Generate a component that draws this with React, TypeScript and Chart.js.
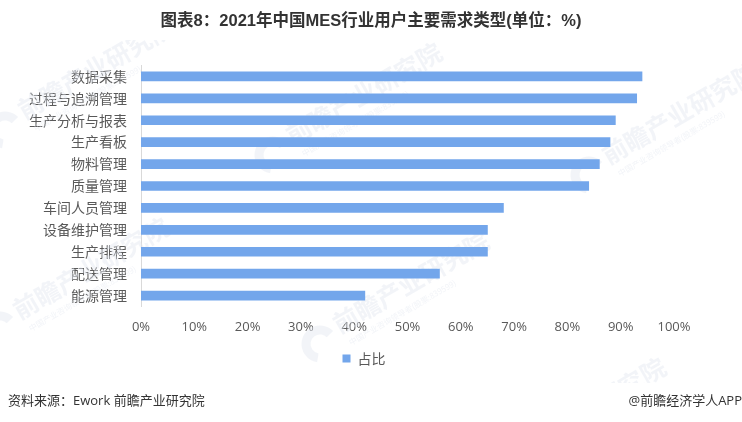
import { useEffect, useRef } from "react";
import { Chart, registerables } from "chart.js";

Chart.register(...registerables);

const categories = [
  "数据采集",
  "过程与追溯管理",
  "生产分析与报表",
  "生产看板",
  "物料管理",
  "质量管理",
  "车间人员管理",
  "设备维护管理",
  "生产排程",
  "配送管理",
  "能源管理",
];
const shares = [94, 93, 89, 88, 86, 84, 68, 65, 65, 56, 42];
const seriesName = "占比";
const chartTitle = "图表8：2021年中国MES行业用户主要需求类型(单位：%)";
const sourceText = "资料来源：Ework 前瞻产业研究院";
const brandText = "@前瞻经济学人APP";
const watermarkName = "前瞻产业研究院";
const watermarkSub = "中国产业咨询领导者(股票:839599)";

const CJK = '"Noto Sans CJK SC", sans-serif';
const LATIN = '"Open Sans", "Noto Sans CJK SC", sans-serif';
const TITLE_FONT = '"Liberation Sans", "Noto Sans CJK SC", sans-serif';
const TEXT = "#595959";
const MARK = "rgba(226,231,240,0.45)";

// logo centre of each faint watermark
const marks = [
  [5, 130],
  [273, 155],
  [589, 175],
  [0, 330],
  [320, 344],
  [497, 470],
];

const backdrop = {
  id: "backdrop",
  beforeDatasetsDraw(chart: Chart) {
    const { ctx } = chart;
    ctx.save();
    // the watermark layer stops above the title and the footer
    ctx.beginPath();
    ctx.rect(0, 40, 742, 343);
    ctx.clip();
    for (const [x, y] of marks) {
      ctx.save();
      ctx.translate(x, y);
      ctx.strokeStyle = MARK;
      ctx.lineWidth = 9;
      ctx.beginPath();
      ctx.arc(0, 0, 14, Math.PI * 0.55, Math.PI * 1.75);
      ctx.stroke();
      ctx.rotate(-Math.PI / 6);
      ctx.fillStyle = MARK;
      ctx.textBaseline = "middle";
      ctx.font = `bold 25px ${CJK}`;
      ctx.fillText(watermarkName, 22, -8);
      ctx.font = `8px ${CJK}`;
      ctx.fillText(watermarkSub, 26, 14);
      ctx.restore();
    }
    ctx.restore();
  },
  afterDraw(chart: Chart) {
    const { ctx } = chart;
    ctx.save();
    ctx.textBaseline = "middle";
    ctx.fillStyle = "#333333";
    ctx.textAlign = "center";
    ctx.font = `bold 16.5px ${TITLE_FONT}`;
    ctx.fillText(chartTitle, 371, 21);
    ctx.font = `13px ${LATIN}`;
    ctx.textAlign = "left";
    ctx.fillText(sourceText, 8, 401);
    ctx.textAlign = "right";
    ctx.fillText(brandText, 742, 401);
    ctx.restore();
  },
};

export default function App() {
  const canvasRef = useRef<HTMLCanvasElement>(null);

  useEffect(() => {
    if (!canvasRef.current) return;

    const chart = new Chart(canvasRef.current, {
      type: "bar",
      data: {
        labels: categories,
        datasets: [
          {
            label: seriesName,
            data: shares,
            backgroundColor: "#73A6EB",
            barThickness: 9,
          },
        ],
      },
      plugins: [backdrop],
      options: {
        indexAxis: "y",
        animation: false,
        responsive: false,
        // right padding puts the centred legend left of the canvas middle
        layout: { padding: { left: 0, right: 14, top: 65.5, bottom: 46.5 } },
        plugins: {
          title: { display: false },
          legend: {
            position: "bottom",
            labels: {
              color: TEXT,
              font: { family: CJK, size: 14 },
              boxWidth: 8,
              boxHeight: 8,
              padding: 0,
            },
          },
          tooltip: { enabled: false },
        },
        scales: {
          x: {
            min: 0,
            max: 100,
            grid: { display: false },
            border: { display: false },
            afterFit: (scale) => {
              scale.height = 45;
            },
            ticks: {
              stepSize: 10,
              maxRotation: 0,
              color: TEXT,
              font: { family: LATIN, size: 13 },
              padding: 5,
              callback: (v) => `${v}%`,
            },
          },
          y: {
            grid: { display: false },
            border: { display: true, color: "#D9D9D9", width: 1 },
            afterFit: (scale) => {
              scale.width = 141;
            },
            ticks: {
              color: TEXT,
              font: { family: CJK, size: 14 },
              padding: 6,
              autoSkip: false,
            },
          },
          // empty axis, only holds the space right of the plot
          spacer: {
            axis: "y",
            type: "category",
            position: "right",
            grid: { display: false },
            border: { display: false },
            ticks: { display: false },
            afterFit: (scale) => {
              scale.width = 54;
            },
          },
        },
      },
    });

    return () => {
      chart.destroy();
    };
  }, []);

  return (
    <div style={{ position: "fixed", left: 0, top: 0, width: 742, height: 422, background: "#fff" }}>
      <canvas ref={canvasRef} width={742} height={422} role="img" aria-label={chartTitle} />
    </div>
  );
}
